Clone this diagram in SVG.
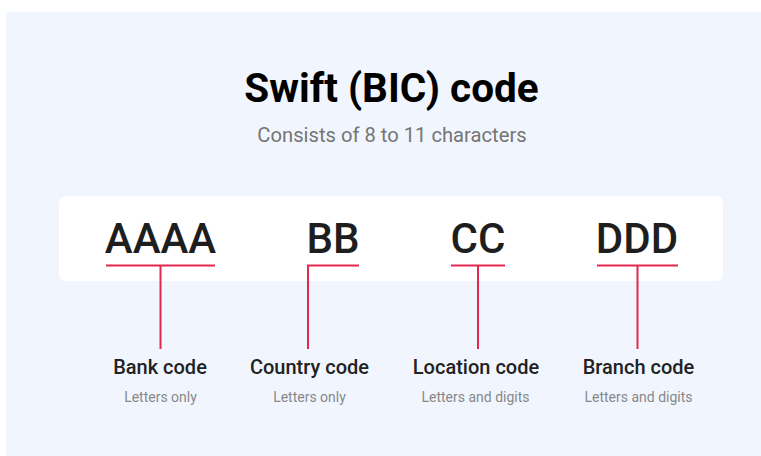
<svg xmlns="http://www.w3.org/2000/svg" width="761" height="456" viewBox="0 0 761 456">
<style>
.t{font-family:Roboto,"Liberation Sans",sans-serif;text-anchor:middle}
.title{font-size:40.5px;font-weight:700;fill:#000}
.sub{font-size:20.2px;fill:#757575}
.code{font-size:42px;font-weight:500;fill:#1e1e1e}
.lbl{font-size:20px;font-weight:500;fill:#222}
.note{font-size:14px;fill:#888}
.ln{stroke:#e5264f;stroke-width:2;fill:none}
</style>
<rect x="6" y="12" width="755" height="444" fill="#f1f6fe"/>
<text class="t title" x="391.5" y="102">Swift (BIC) code</text>
<text class="t sub" x="392" y="142">Consists of 8 to 11 characters</text>
<rect x="59" y="196" width="664" height="85" rx="7" fill="#ffffff"/>
<g id="connectors">
<path class="ln" d="M106 265.5H215M160.5 265.5V349"/>
<path class="ln" d="M307 265.5H359M308 265.5V349"/>
<path class="ln" d="M451 265.5H505M478 265.5V349"/>
<path class="ln" d="M597 265.5H678M637.5 265.5V349"/>
</g>
<g id="bank">
<text class="t code" x="160.5" y="252.5">AAAA</text>
<text class="t lbl" x="160" y="374">Bank code</text>
<text class="t note" x="160.5" y="402">Letters only</text>
</g>
<g id="country">
<text class="t code" x="333" y="252.5">BB</text>
<text class="t lbl" x="309.5" y="374">Country code</text>
<text class="t note" x="309.5" y="402">Letters only</text>
</g>
<g id="location">
<text class="t code" x="478" y="252.5">CC</text>
<text class="t lbl" x="476" y="374">Location code</text>
<text class="t note" x="475.5" y="402">Letters and digits</text>
</g>
<g id="branch">
<text class="t code" x="637" y="252.5">DDD</text>
<text class="t lbl" x="638.5" y="374">Branch code</text>
<text class="t note" x="638.5" y="402">Letters and digits</text>
</g>
</svg>
